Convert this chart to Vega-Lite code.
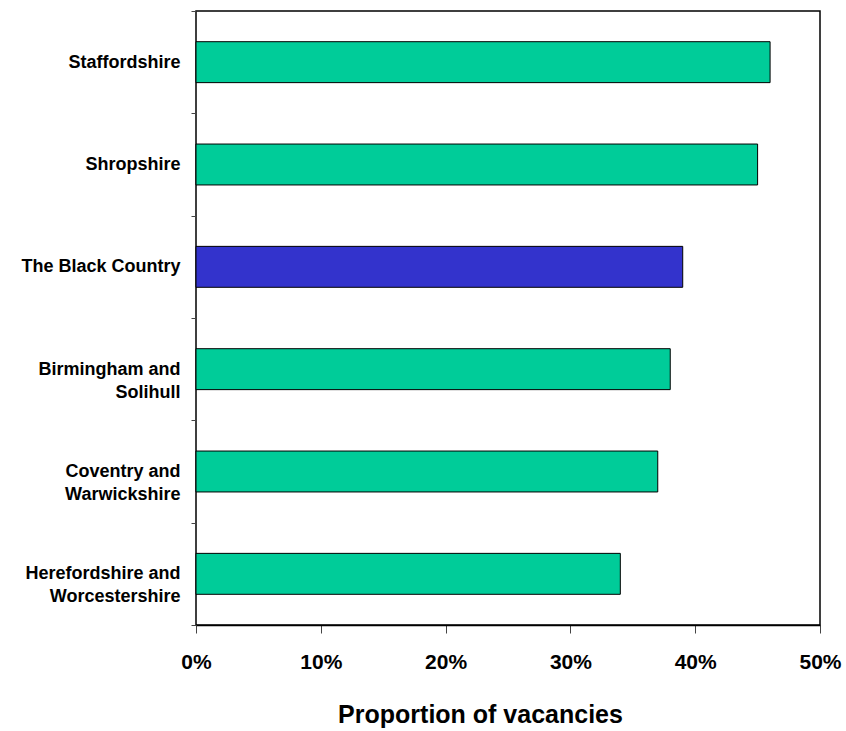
{
  "$schema": "https://vega.github.io/schema/vega-lite/v6.json",
  "autosize": "none",
  "width": 624,
  "height": 614,
  "padding": {"left": 196, "top": 11, "right": 26, "bottom": 106},
  "background": "white",
  "config": {
    "view": {"stroke": "black", "strokeWidth": 1.5},
    "font": "Liberation Sans"
  },
  "data": {
    "values": [
      {"region": "Staffordshire", "share": 0.46, "group": "other"},
      {"region": "Shropshire", "share": 0.45, "group": "other"},
      {"region": "The Black Country", "share": 0.39, "group": "highlight"},
      {"region": "Birmingham and Solihull", "share": 0.38, "group": "other"},
      {"region": "Coventry and Warwickshire", "share": 0.37, "group": "other"},
      {"region": "Herefordshire and Worcestershire", "share": 0.34, "group": "other"}
    ]
  },
  "mark": {"type": "bar", "stroke": "black", "strokeWidth": 1, "height": {"band": 0.4}},
  "encoding": {
    "y": {
      "field": "region",
      "type": "nominal",
      "sort": null,
      "scale": {"paddingInner": 0, "paddingOuter": 0},
      "axis": {
        "title": null,
        "tickBand": "extent",
        "domain": false,
        "tickColor": "#444",
        "tickSize": 5,
        "labelPadding": 11,
        "labelFont": "Liberation Sans",
        "labelFontWeight": "bold",
        "labelFontSize": 18,
        "labelColor": "black",
        "labelLineHeight": 23,
        "labelExpr": "split(replace(datum.label, ' and ', ' and|'), '|')"
      }
    },
    "x": {
      "field": "share",
      "type": "quantitative",
      "scale": {"domain": [0, 0.5], "nice": false},
      "axis": {
        "title": "Proportion of vacancies",
        "format": ".0%",
        "values": [0, 0.1, 0.2, 0.3, 0.4, 0.5],
        "grid": false,
        "domainColor": "black",
        "domainWidth": 1.5,
        "tickColor": "#444",
        "tickSize": 8,
        "labelPadding": 18,
        "labelFont": "Liberation Sans",
        "labelFontWeight": "bold",
        "labelFontSize": 21,
        "labelColor": "black",
        "labelFlush": false,
        "titleFont": "Liberation Sans",
        "titleFontWeight": "bold",
        "titleFontSize": 25,
        "titleColor": "black",
        "titlePadding": 30,
        "titleX": 284
      }
    },
    "color": {
      "field": "group",
      "type": "nominal",
      "scale": {"domain": ["other", "highlight"], "range": ["#00CC99", "#3333CC"]},
      "legend": null
    }
  }
}
